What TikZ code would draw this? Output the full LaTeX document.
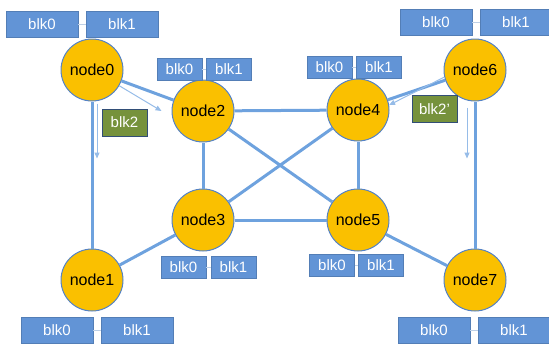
\documentclass[tikz,border=0pt]{standalone}
\usepackage{fontspec}
\setmainfont{Liberation Sans}
\usepackage{xcolor}
\definecolor{peyellow}{RGB}{250,192,0}
\definecolor{ringblue}{RGB}{84,130,198}
\definecolor{blkblue}{RGB}{98,148,214}
\definecolor{linkblue}{RGB}{110,162,222}
\definecolor{flowblue}{RGB}{150,188,232}
\definecolor{pairgray}{RGB}{190,208,230}
\definecolor{blkgreen}{RGB}{118,146,60}
\usetikzlibrary{arrows.meta, positioning}

\begin{document}
\begin{tikzpicture}[
	x=1pt, y=-1pt,
	pe/.style={circle, draw=ringblue, line width=1pt, fill=peyellow, minimum size=62pt, inner sep=0pt, font=\fontsize{16}{16}\selectfont},
	blk/.style={rectangle, draw=blkblue!85!black, line width=0.4pt, fill=blkblue, text=white, inner sep=0pt, font=\fontsize{15}{15}\selectfont},
	blkbig/.style={blk, minimum width=72pt, minimum height=26pt},
	blksmall/.style={blk, minimum width=45pt, minimum height=22pt},
	blkdup/.style={blk, fill=blkgreen, draw=ringblue!60!black, minimum width=45pt, minimum height=27pt},
	pair/.style={draw=pairgray, line width=1pt},
	link/.style={draw=linkblue, line width=3pt},
	flow/.style={-{Triangle[length=6pt,width=5pt]}, draw=flowblue, line width=1pt}
	]
	\useasboundingbox (0,0) rectangle (549,343);

	% processing nodes
	\node[pe] (node0) at (92,70) {node0};
	\node[pe] (node1) at (92,280) {node1};
	\node[pe] (node2) at (203,111) {node2};
	\node[pe] (node3) at (203,220) {node3};
	\node[pe] (node4) at (358,110) {node4};
	\node[pe] (node5) at (358,220) {node5};
	\node[pe] (node6) at (475,70) {node6};
	\node[pe] (node7) at (475,280) {node7};

	% links
	\draw[link] (node0) -- (node1);
	\draw[link] (node0) -- (node2);
	\draw[link] (node1) -- (node3);
	\draw[link] (node2) -- (node4);
	\draw[link] (node2) -- (node3);
	\draw[link] (node2) -- (node5);
	\draw[link] (node4) -- (node3);
	\draw[link] (node4) -- (node5);
	\draw[link] (node3) -- (node5);
	\draw[link] (node6) -- (node4);
	\draw[link] (node6) -- (node7);
	\draw[link] (node5) -- (node7);

	% blocks held by each node
	\node[blkbig] (b00) at (42,24.5) {blk0};
	\node[blkbig] (b01) at (122,24.5) {blk1};
	\node[blksmall] (b20) at (179.5,69) {blk0};
	\node[blksmall] (b21) at (229,69) {blk1};
	\node[blksmall] (b40) at (329.5,67) {blk0};
	\node[blksmall] (b41) at (379,67) {blk1};
	\node[blkbig] (b60) at (436,22) {blk0};
	\node[blkbig] (b61) at (516,22) {blk1};
	\node[blksmall] (b30) at (183.5,267.5) {blk0};
	\node[blksmall] (b31) at (233.5,267.5) {blk1};
	\node[blkbig] (b10) at (57,330) {blk0};
	\node[blkbig] (b11) at (137,330) {blk1};
	\node[blksmall] (b50) at (332,265) {blk0};
	\node[blksmall] (b51) at (381,265) {blk1};
	\node[blkbig] (b70) at (434,330.5) {blk0};
	\node[blkbig] (b71) at (514,330.5) {blk1};
	\foreach \n in {0,1,2,3,4,5,6,7}
		\draw[pair] (b\n0) -- (b\n1);

	% duplicated blocks
	\node[blkdup] (b02) at (124.5,122.5) {blk2};
	\node[blkdup] (b62) at (434.5,109) {blk2’};

	% block transfers
	\draw[flow] (node0.-30) -- ([xshift=-10pt]node2.west);
	\draw[flow] ([xshift=5pt,yshift=-2pt]node0.south) -- ([xshift=5pt,yshift=-57pt]node0.south);
	\draw[flow] (node6.193) -- (node4.9);
	\draw[flow] ([xshift=-8pt,yshift=-6pt]node6.south) -- ([xshift=-8pt,yshift=-57pt]node6.south);
\end{tikzpicture}
\end{document}
